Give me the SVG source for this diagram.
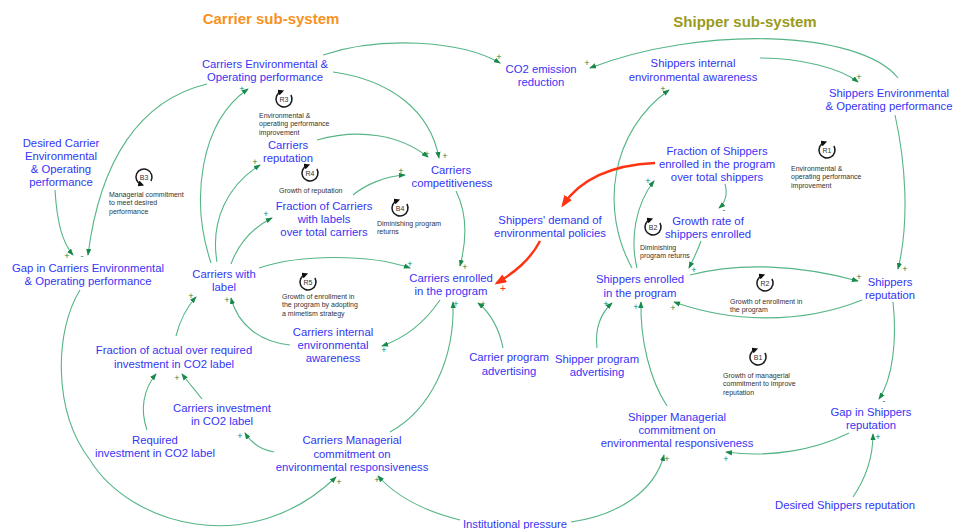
<svg xmlns="http://www.w3.org/2000/svg" width="953" height="529" viewBox="0 0 953 529">
  <defs>
    <marker id="ah" viewBox="0 0 8 6" refX="7" refY="3" markerWidth="7" markerHeight="5.5" markerUnits="userSpaceOnUse" orient="auto">
      <path d="M0,0 L8,3 L0,6 z" fill="#17894a"/>
    </marker>
    <marker id="ahr" viewBox="0 0 8 6" refX="6" refY="3" markerWidth="12" markerHeight="9" markerUnits="userSpaceOnUse" orient="auto">
      <path d="M0,0 L8,3 L0,6 z" fill="#ff3311"/>
    </marker>
    <marker id="la" viewBox="0 0 6 6" refX="3" refY="3" markerWidth="6" markerHeight="6" markerUnits="userSpaceOnUse" orient="auto">
      <path d="M0,0 L6,3 L0,6 z" fill="#111"/>
    </marker>
    <style>
      .n { font-family: "Liberation Sans", Arial, sans-serif; font-size: 11.3px; fill: #3535f5; text-anchor: middle; }
      .t1 { font-family: "Liberation Sans", Arial, sans-serif; font-size: 15px; font-weight: bold; fill: #f7921e; text-anchor: middle; }
      .t2 { font-family: "Liberation Sans", Arial, sans-serif; font-size: 15px; font-weight: bold; fill: #9a9a1c; text-anchor: middle; }
      .ll { font-family: "Liberation Sans", Arial, sans-serif; font-size: 7px; fill: #333; }
      .lid { font-family: "Liberation Sans", Arial, sans-serif; font-size: 7px; fill: #333; text-anchor: middle; dominant-baseline: central; }
      .lc { fill: none; stroke: #1a1a1a; stroke-width: 1.5; marker-end: url(#la); }
      .c { fill: none; stroke: #55b585; stroke-width: 1.1; marker-end: url(#ah); }
      .r { fill: none; stroke: #ff3311; stroke-width: 2.4; marker-end: url(#ahr); }
      .s { font-family: "Liberation Sans", Arial, sans-serif; font-size: 9px; fill: #17894a; text-anchor: middle; dominant-baseline: central; }
      .sr { font-family: "Liberation Sans", Arial, sans-serif; font-size: 10px; fill: #ff3311; text-anchor: middle; dominant-baseline: central; }
    </style>
  </defs>

  <rect width="953" height="529" fill="#fff"/>

  <!-- sub-system titles -->
  <text class="t1" x="271" y="24">Carrier sub-system</text>
  <text class="t2" x="745" y="27">Shipper sub-system</text>

  <!-- causal links -->
  <g id="connectors">
    <path class="c" d="M323,55 C380,36 460,40 500,63"/>
    <path class="c" d="M898,78 C860,30 700,25 590,68"/>
    <path class="c" d="M760,58 C800,58 840,68 858,82"/>
    <path class="c" d="M895,115 C905,160 910,220 898,269"/>
    <path class="c" d="M632,268 C600,210 610,132 669,90"/>
    <path class="c" d="M637,268 C630,240 635,205 654,181"/>
    <path class="c" d="M725,184 C728,194 725,203 719,208"/>
    <path class="c" d="M701,241 C697,252 693,260 689,268"/>
    <path class="c" d="M690,275 C740,262 800,265 858,281"/>
    <path class="c" d="M862,300 C800,325 730,322 674,302"/>
    <path class="c" d="M893,302 C897,340 893,378 879,399"/>
    <path class="c" d="M849,433 C815,450 770,458 726,452"/>
    <path class="c" d="M853,497 C868,475 873,455 873,434"/>
    <path class="c" d="M667,406 C650,380 640,340 641,302"/>
    <path class="c" d="M597,348 C595,330 600,314 612,303"/>
    <path class="c" d="M571,522 C620,515 655,490 664,455"/>
    <path class="c" d="M460,520 C420,510 395,495 378,476"/>
    <path class="c" d="M80,290 C55,330 52,410 90,460 C130,525 250,560 336,477"/>
    <path class="c" d="M390,432 C430,410 455,360 453,302"/>
    <path class="c" d="M274,452 C262,450 252,444 245,433"/>
    <path class="c" d="M202,399 C195,390 188,382 182,374"/>
    <path class="c" d="M147,430 C140,410 143,390 156,374"/>
    <path class="c" d="M176,336 C180,320 186,308 196,297"/>
    <path class="c" d="M290,345 C260,342 238,325 231,298"/>
    <path class="c" d="M440,300 C425,322 405,338 382,346"/>
    <path class="c" d="M259,268 C300,254 370,254 410,268"/>
    <path class="c" d="M231,264 C238,245 252,228 272,218"/>
    <path class="c" d="M217,262 C210,220 228,185 260,165"/>
    <path class="c" d="M211,263 C190,200 200,122 248,89"/>
    <path class="c" d="M55,190 C57,222 62,242 73,255"/>
    <path class="c" d="M207,84 C140,100 100,160 88,255"/>
    <path class="c" d="M333,72 C390,80 430,110 439,158"/>
    <path class="c" d="M317,140 C360,128 400,135 428,157"/>
    <path class="c" d="M353,195 C365,185 385,176 405,175"/>
    <path class="c" d="M456,191 C468,215 466,243 460,266"/>
    <path class="c" d="M503,348 C500,332 492,314 478,303"/>
    <path class="r" d="M655,163 C610,165 580,180 563,205"/>
    <path class="r" d="M540,241 C530,260 515,272 497,283"/>

    <!-- link polarities -->
    <text class="s" x="499" y="57">+</text>
    <text class="s" x="587" y="63">+</text>
    <text class="s" x="859" y="77">+</text>
    <text class="s" x="905" y="269">+</text>
    <text class="s" x="663" y="89">+</text>
    <text class="s" x="648" y="181">+</text>
    <text class="s" x="724" y="210">-</text>
    <text class="s" x="694" y="270">+</text>
    <text class="s" x="859" y="277">+</text>
    <text class="s" x="673" y="308">+</text>
    <text class="s" x="884" y="401">-</text>
    <text class="s" x="726" y="459">+</text>
    <text class="s" x="878" y="437">+</text>
    <text class="s" x="636" y="307">+</text>
    <text class="s" x="606" y="304">+</text>
    <text class="s" x="667" y="459">+</text>
    <text class="s" x="377" y="480">+</text>
    <text class="s" x="339" y="482">+</text>
    <text class="s" x="456" y="304">+</text>
    <text class="s" x="240" y="436">+</text>
    <text class="s" x="177" y="378">+</text>
    <text class="s" x="152" y="376">-</text>
    <text class="s" x="191" y="296">+</text>
    <text class="s" x="227" y="300">+</text>
    <text class="s" x="384" y="350">+</text>
    <text class="s" x="410" y="264">+</text>
    <text class="s" x="266" y="214">+</text>
    <text class="s" x="255" y="162">+</text>
    <text class="s" x="242" y="89">+</text>
    <text class="s" x="67" y="256">+</text>
    <text class="s" x="82" y="256">-</text>
    <text class="s" x="445" y="156">+</text>
    <text class="s" x="427" y="154">+</text>
    <text class="s" x="401" y="171">+</text>
    <text class="s" x="465" y="267">+</text>
    <text class="s" x="483" y="304">+</text>
    <text class="sr" x="566" y="201">+</text>
    <text class="sr" x="503" y="288">+</text>
  </g>

  <!-- variables -->
  <g id="carriers-env-perf"><text class="n" x="265" y="68">Carriers Environmental &amp;</text><text class="n" x="265" y="81">Operating performance</text></g>
  <g id="co2-reduction"><text class="n" x="541" y="73">CO2 emission</text><text class="n" x="541" y="86">reduction</text></g>
  <g id="shippers-awareness"><text class="n" x="693" y="67">Shippers internal</text><text class="n" x="693" y="81">environmental awareness</text></g>
  <g id="shippers-env-perf"><text class="n" x="889" y="97">Shippers Environmental</text><text class="n" x="889" y="110">&amp; Operating performance</text></g>
  <g id="desired-carrier-perf"><text class="n" x="61" y="147">Desired Carrier</text><text class="n" x="61" y="160">Environmental</text><text class="n" x="61" y="173">&amp; Operating</text><text class="n" x="61" y="186">performance</text></g>
  <g id="gap-carriers-perf"><text class="n" x="88" y="272">Gap in Carriers Environmental</text><text class="n" x="88" y="285">&amp; Operating performance</text></g>
  <g id="carriers-reputation"><text class="n" x="288" y="149">Carriers</text><text class="n" x="288" y="162">reputation</text></g>
  <g id="carriers-competitiveness"><text class="n" x="451" y="174">Carriers</text><text class="n" x="452" y="187">competitiveness</text></g>
  <g id="fraction-carriers-labels"><text class="n" x="324" y="210">Fraction of Carriers</text><text class="n" x="324" y="223">with labels</text><text class="n" x="324" y="236">over total carriers</text></g>
  <g id="carriers-with-label"><text class="n" x="224" y="278">Carriers with</text><text class="n" x="224" y="291">label</text></g>
  <g id="carriers-enrolled"><text class="n" x="451" y="282">Carriers enrolled</text><text class="n" x="451" y="295">in the program</text></g>
  <g id="carriers-awareness"><text class="n" x="333" y="336">Carriers internal</text><text class="n" x="333" y="349">environmental</text><text class="n" x="333" y="362">awareness</text></g>
  <g id="fraction-investment"><text class="n" x="174" y="354">Fraction of actual over required</text><text class="n" x="174" y="368">investment in CO2 label</text></g>
  <g id="carriers-investment"><text class="n" x="222" y="412">Carriers investment</text><text class="n" x="222" y="425">in CO2 label</text></g>
  <g id="required-investment"><text class="n" x="155" y="444">Required</text><text class="n" x="155" y="457">investment in CO2 label</text></g>
  <g id="carriers-commitment"><text class="n" x="352" y="444">Carriers Managerial</text><text class="n" x="352" y="458">commitment on</text><text class="n" x="352" y="471">environmental responsiveness</text></g>
  <g id="carrier-advertising"><text class="n" x="509" y="361">Carrier program</text><text class="n" x="509" y="375">advertising</text></g>
  <g id="shipper-advertising"><text class="n" x="597" y="363">Shipper program</text><text class="n" x="597" y="376">advertising</text></g>
  <g id="shippers-demand"><text class="n" x="550" y="224">Shippers' demand of</text><text class="n" x="550" y="237">environmental policies</text></g>
  <g id="fraction-shippers"><text class="n" x="717" y="155">Fraction of Shippers</text><text class="n" x="717" y="168">enrolled in the program</text><text class="n" x="717" y="181">over total shippers</text></g>
  <g id="growth-rate-shippers"><text class="n" x="708" y="225">Growth rate of</text><text class="n" x="708" y="238">shippers enrolled</text></g>
  <g id="shippers-enrolled"><text class="n" x="640" y="283">Shippers enrolled</text><text class="n" x="640" y="297">in the program</text></g>
  <g id="shippers-reputation"><text class="n" x="890" y="286">Shippers</text><text class="n" x="890" y="299">reputation</text></g>
  <g id="shipper-commitment"><text class="n" x="677" y="421">Shipper Managerial</text><text class="n" x="677" y="434">commitment on</text><text class="n" x="677" y="447">environmental responsiveness</text></g>
  <g id="gap-shippers-reputation"><text class="n" x="871" y="416">Gap in Shippers</text><text class="n" x="871" y="429">reputation</text></g>
  <g id="desired-shippers-reputation"><text class="n" x="845" y="509">Desired Shippers reputation</text></g>
  <g id="institutional-pressure"><text class="n" x="515" y="528">Institutional pressure</text></g>

  <!-- feedback loops -->
  <g id="loop-R3"><path class="lc" d="M290.9,95 A8,8 0 1 1 281.3,91.5"/><text class="lid" x="284" y="99">R3</text>
    <text class="ll" x="259" y="117.5">Environmental &amp;</text><text class="ll" x="259" y="126">operating performance</text><text class="ll" x="259" y="134.5">improvement</text></g>
  <g id="loop-B3"><path class="lc" d="M150.9,181 A8,8 0 1 0 141.3,184.5"/><text class="lid" x="144" y="177">B3</text>
    <text class="ll" x="109" y="196.5">Managerial commitment</text><text class="ll" x="109" y="205">to meet desired</text><text class="ll" x="109" y="213.5">performance</text></g>
  <g id="loop-R4"><path class="lc" d="M316.9,169 A8,8 0 1 1 307.3,165.5"/><text class="lid" x="310" y="173">R4</text>
    <text class="ll" x="279" y="192.5">Growth of reputation</text></g>
  <g id="loop-B4"><path class="lc" d="M406.9,204 A8,8 0 1 1 397.3,200.5"/><text class="lid" x="400" y="208">B4</text>
    <text class="ll" x="377" y="225.5">Diminishing program</text><text class="ll" x="377" y="234">returns</text></g>
  <g id="loop-R5"><path class="lc" d="M314.9,278 A8,8 0 1 1 305.3,274.5"/><text class="lid" x="308" y="282">R5</text>
    <text class="ll" x="282" y="298.5">Growth of enrollment in</text><text class="ll" x="282" y="307">the program by adopting</text><text class="ll" x="282" y="315.5">a mimetism strategy</text></g>
  <g id="loop-R1"><path class="lc" d="M833.9,146 A8,8 0 1 1 824.3,142.5"/><text class="lid" x="827" y="150">R1</text>
    <text class="ll" x="791" y="170.5">Environmental &amp;</text><text class="ll" x="791" y="179">operating performance</text><text class="ll" x="791" y="187.5">improvement</text></g>
  <g id="loop-B2"><path class="lc" d="M659.9,223 A8,8 0 1 1 650.3,219.5"/><text class="lid" x="653" y="227">B2</text>
    <text class="ll" x="640" y="249.5">Diminishing</text><text class="ll" x="640" y="258">program returns</text></g>
  <g id="loop-R2"><path class="lc" d="M771.9,279 A8,8 0 1 1 762.3,275.5"/><text class="lid" x="765" y="283">R2</text>
    <text class="ll" x="730" y="303.5">Growth of enrollment in</text><text class="ll" x="730" y="312">the program</text></g>
  <g id="loop-B1"><path class="lc" d="M764.9,353 A8,8 0 1 1 755.3,349.5"/><text class="lid" x="758" y="357">B1</text>
    <text class="ll" x="723" y="377.5">Growth of managerial</text><text class="ll" x="723" y="386">commitment to improve</text><text class="ll" x="723" y="394.5">reputation</text></g>
</svg>
